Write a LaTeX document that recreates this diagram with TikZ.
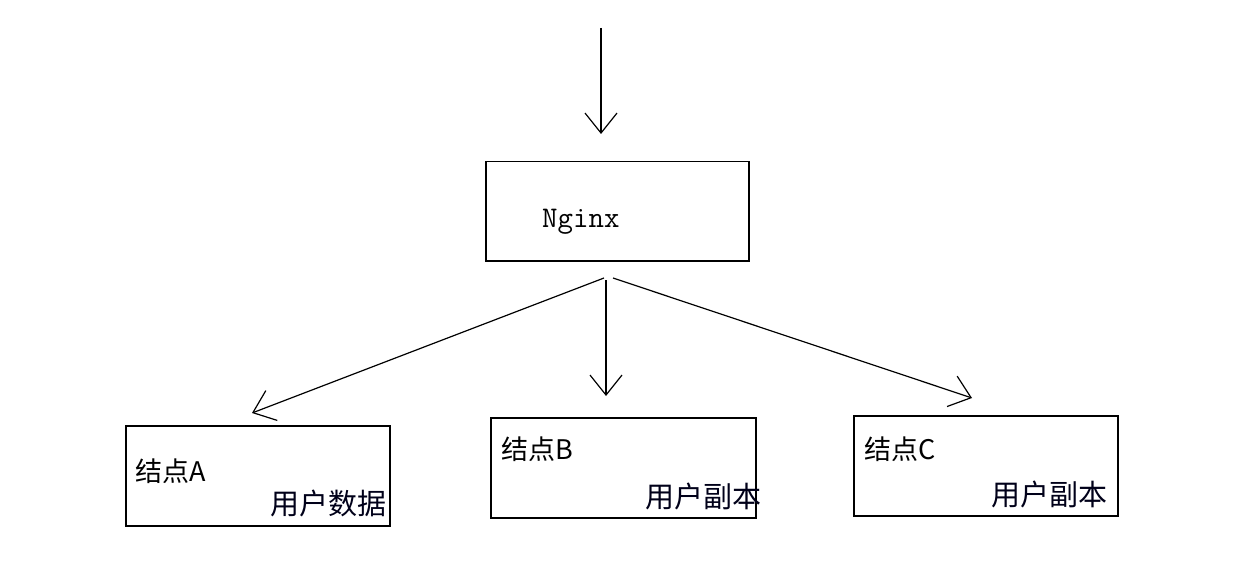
\documentclass[tikz,border=0pt]{standalone}
\usepackage{fontspec}
\newfontfamily\cjk{Noto Sans CJK SC}
\usetikzlibrary{arrows.meta}
\begin{document}
\begin{tikzpicture}[x=1pt,y=-1pt,
  box/.style={draw=black,line width=1.5pt,minimum width=#1,minimum height=100pt,inner sep=0pt,anchor=north west},
  box/.default=264pt,
  arr/.style={draw=black,line width=1.2pt,-{Straight Barb[length=20pt,width=32pt,line width=1.2pt]}},
  lbl/.style={inner sep=0pt,font=\cjk\fontsize{27pt}{27pt}\selectfont},
  sub/.style={inner sep=0pt,anchor=base east,text=black!90!blue,font=\cjk\fontsize{29pt}{29pt}\selectfont}]
\useasboundingbox[fill=white] (0,0) rectangle (1249,572);
% Nginx
\node[box=263pt,minimum height=99pt] (nginx) at (485,161) {};
\node[inner sep=0pt,anchor=base west,font=\ttfamily\fontsize{30pt}{30pt}\selectfont] (ntxt) at (542,227) {Nginx};
% nodes
\node[box] (A) at (125,425) {};
\node[box=265pt] (B) at (490,417) {};
\node[box=264pt] (C) at (853,415) {};
\node[lbl,anchor=base west] (At) at (135,481) {结点A};
\node[lbl,anchor=base west] (Bt) at (501,459) {结点B};
\node[lbl,anchor=base west] (Ct) at (864,459) {结点C};
\node[sub] (As) at (387,514) {用户数据};
\node[sub] (Bs) at (762,507) {用户副本};
\node[sub] (Cs) at (1108,505) {用户副本};
% connectors
\coordinate (top) at (601,28);
\coordinate (topend) at (601,134);
\coordinate (hubL) at (604,278);
\coordinate (hubM) at (606,280);
\coordinate (hubR) at (613,278);
\coordinate (endA) at (252,413);
\coordinate (endB) at (606,396);
\coordinate (endC) at (972,398);
\draw[arr] (top) -- (topend);
\draw[arr] (hubL) -- (endA);
\draw[arr] (hubM) -- (endB);
\draw[arr] (hubR) -- (endC);
\end{tikzpicture}
\end{document}
